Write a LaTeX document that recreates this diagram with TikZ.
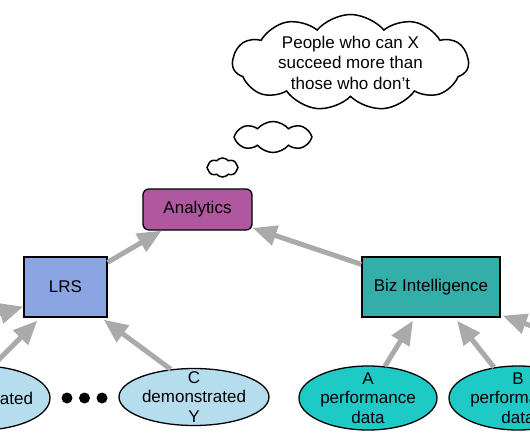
\documentclass[tikz,border=0pt]{standalone}
\usepackage{fontspec}
\setmainfont{Liberation Sans}
\usetikzlibrary{positioning,shapes.symbols,shapes.geometric,arrows.meta}

\definecolor{anaPurple}{RGB}{176,88,159}
\definecolor{lrsBlue}{RGB}{139,165,227}
\definecolor{bizTeal}{RGB}{51,174,168}
\definecolor{demoBlue}{RGB}{181,221,238}
\definecolor{perfTeal}{RGB}{30,202,198}
\definecolor{arrGray}{RGB}{170,170,170}

\begin{document}
\begin{tikzpicture}[
  x=1pt, y=-1pt,
  font=\fontsize{17pt}{19.5pt}\selectfont,
  box/.style={draw, line width=1.3pt, align=center, inner sep=0pt},
  hub/.style={box, minimum height=60pt},
  source/.style={ellipse, draw, line width=1.3pt, inner sep=0pt, minimum width=138pt, minimum height=64pt},
  thought/.style={cloud, draw, line width=1.5pt, cloud puff arc=100, inner sep=0pt},
  dot/.style={circle, fill=black, inner sep=0pt, minimum size=11pt},
  arr/.style={-{Triangle[length=24pt,width=20pt]}, line width=5pt, draw=arrGray}
]
\clip (0,0) rectangle (530,442);

% Knoten in der Mitte
\node[box, rounded corners=6pt, fill=anaPurple, minimum width=109pt, minimum height=41pt] (analytics) at (197.5,209.5) {Analytics};
\node[hub, fill=lrsBlue, minimum width=83pt] (lrs) at (65.5,287) {LRS};
\node[hub, fill=bizTeal, minimum width=138pt] (biz) at (431,287) {Biz Intelligence};

% Quellen unten
\node[source, fill=demoBlue] (demoL) at (-19,398) [label={[align=center]center:demonstrated}] {};
\node[source, fill=demoBlue, minimum width=150pt, minimum height=57pt] (demoC) at (194,397) [label={[align=center]center:C\\demonstrated\\Y}] {};
\node[source, fill=perfTeal] (perfA) at (368,398) [label={[align=center]center:A\\performance\\data}] {};
\node[source, fill=perfTeal] (perfB) at (518,398) [label={[align=center]center:B\\performance\\data}] {};

\foreach \i/\x in {1/67,2/84.5,3/102}
  \node[dot] (dot\i) at (\x,398) {};

% Gedankenblasen
\node[thought, cloud puffs=8, minimum width=31pt, minimum height=19pt] (puffS) at (222.5,167.5) {};
\node[thought, cloud puffs=8, minimum width=78pt, minimum height=31pt] (puffM) at (273,137) {};
\node[thought, cloud puffs=11, minimum width=236pt, minimum height=96pt] (puffL) at (350.5,62.5)
  [label={[align=center,font=\fontsize{17pt}{20.5pt}\selectfont]center:People who can X\\succeed more than\\those who don't}] {};

% Pfeile
\coordinate (inL) at (-40,325);
\coordinate (inR) at (565,338);
\draw[arr] ([yshift=-6pt]lrs.north east) -- (analytics);
\draw[arr] ([yshift=-8pt]biz.north west) -- (analytics);
\draw[arr] (inL) -- ([yshift=11pt]lrs.south west);
\draw[arr] (demoL.70) -- ([xshift=14pt,yshift=-3pt]lrs.south west);
\draw[arr] (demoC.130) -- ([xshift=-4pt,yshift=-2pt]lrs.south east);
\draw[arr] (perfA.62) -- ([xshift=-18pt,yshift=-3pt]biz.south);
\draw[arr] (perfB.128) -- ([xshift=26pt,yshift=-3pt]biz.south);
\draw[arr] (inR) -- ([xshift=2pt,yshift=2pt]biz.south east);

\end{tikzpicture}
\end{document}
